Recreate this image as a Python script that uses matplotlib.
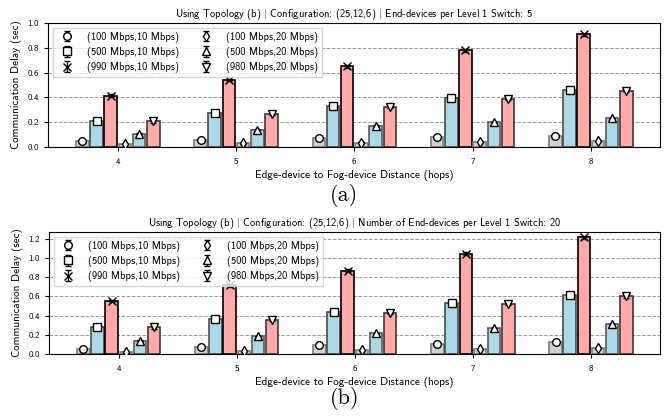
import numpy as np
import matplotlib
matplotlib.use("Agg")
import matplotlib.pyplot as plt

plt.rcParams['font.family'] = ['cmss10', 'DejaVu Sans']
plt.rcParams['mathtext.fontset'] = 'cm'
plt.rcParams['axes.formatter.use_mathtext'] = True

hops = [4, 5, 6, 7, 8]
labels = ["(100 Mbps,10 Mbps)", "(500 Mbps,10 Mbps)", "(990 Mbps,10 Mbps)",
          "(100 Mbps,20 Mbps)", "(500 Mbps,20 Mbps)", "(980 Mbps,20 Mbps)"]

# Panel (a): 5 end-devices per level 1 switch
a_100_10 = [0.046, 0.057, 0.072, 0.083, 0.092]
a_500_10 = [0.213, 0.272, 0.330, 0.397, 0.460]
a_990_10 = [0.415, 0.539, 0.650, 0.780, 0.909]
a_100_20 = [0.022, 0.030, 0.035, 0.043, 0.046]
a_500_20 = [0.108, 0.137, 0.169, 0.200, 0.230]
a_980_20 = [0.207, 0.267, 0.323, 0.387, 0.450]
a_err = [0.004, 0.006, 0.010, 0.003, 0.005, 0.010]

# Panel (b): 20 end-devices per level 1 switch
b_100_10 = [0.052, 0.076, 0.095, 0.107, 0.124]
b_500_10 = [0.283, 0.362, 0.438, 0.528, 0.614]
b_990_10 = [0.555, 0.714, 0.869, 1.045, 1.214]
b_100_20 = [0.020, 0.030, 0.038, 0.048, 0.058]
b_500_20 = [0.138, 0.186, 0.217, 0.266, 0.310]
b_980_20 = [0.276, 0.355, 0.428, 0.517, 0.600]
b_err = [0.005, 0.008, 0.012, 0.003, 0.006, 0.012]

titles = [r"Using Topology (b) $|$ Configuration: (25,12,6) $|$ End-devices per Level 1 Switch: 5",
          r"Using Topology (b) $|$ Configuration: (25,12,6) $|$ Number of End-devices per Level 1 Switch: 20"]

faces = ['#d0d0d0', '#add8e6', '#ffaaaa', '#d0d0d0', '#add8e6', '#ffaaaa']
edges = ['#7a7a7a', '#4a4a4a', '#000000', '#7a7a7a', '#5a5a5a', '#3a3a3a']
markers = ['o', 's', 'x', 'd', '^', 'v']

fig = plt.figure(figsize=(6.67, 4.16), dpi=100)
ax_a = fig.add_axes([0.072, 0.6466, 0.9175, 0.2981])
ax_b = fig.add_axes([0.0735, 0.149, 0.916, 0.2933])

panels = [
    (ax_a, [a_100_10, a_500_10, a_990_10, a_100_20, a_500_20, a_980_20], a_err, 1.0, titles[0]),
    (ax_b, [b_100_10, b_500_10, b_990_10, b_100_20, b_500_20, b_980_20], b_err, 1.27, titles[1]),
]

x = np.array(hops, dtype=float)
step = 0.12
width = 0.106
for ax, series, errs, ytop, title in panels:
    ax.set_axisbelow(True)
    handles = []
    for i, vals in enumerate(series):
        xi = x + (i - 2.5) * step
        ax.bar(xi, vals, width=width, color=faces[i], edgecolor=edges[i], linewidth=1.2, zorder=2)
        h = ax.errorbar(xi, vals, yerr=errs[i], fmt=markers[i], markersize=5.5,
                        markerfacecolor='white', markeredgecolor='black', markeredgewidth=1.0,
                        ecolor='black', elinewidth=1.0, capsize=2.5, zorder=3, label=labels[i])
        handles.append(h)
    ax.set_xlim(3.41, 8.585)
    ax.set_ylim(0, ytop)
    ax.set_xticks(hops)
    ax.set_yticks(np.arange(0, ytop + 1e-9, 0.2))
    ax.yaxis.set_major_formatter(matplotlib.ticker.FormatStrFormatter('%.1f'))
    ax.tick_params(labelsize=6.5, length=3, width=0.8)
    ax.grid(axis='y', linestyle='--', color='#999999', linewidth=0.7, zorder=0)
    ax.set_ylabel("Communication Delay (sec)", fontsize=8)
    ax.set_xlabel("Edge-device to Fog-device Distance (hops)", fontsize=8, labelpad=3)
    ax.set_title(title, fontsize=7.5, pad=4)
    ax.legend(handles=handles, loc='upper left', ncol=2, fontsize=7.5,
              columnspacing=1.6, handletextpad=0.9, borderpad=0.35, labelspacing=0.4,
              framealpha=0.8, edgecolor='#cccccc', fancybox=False)

fig.text(0.516, 0.531, "(a)", fontsize=16, family=['cmr10'], ha='center', va='center')
fig.text(0.516, 0.043, "(b)", fontsize=16, family=['cmr10'], ha='center', va='center')

fig.savefig("out.png", dpi=100)
